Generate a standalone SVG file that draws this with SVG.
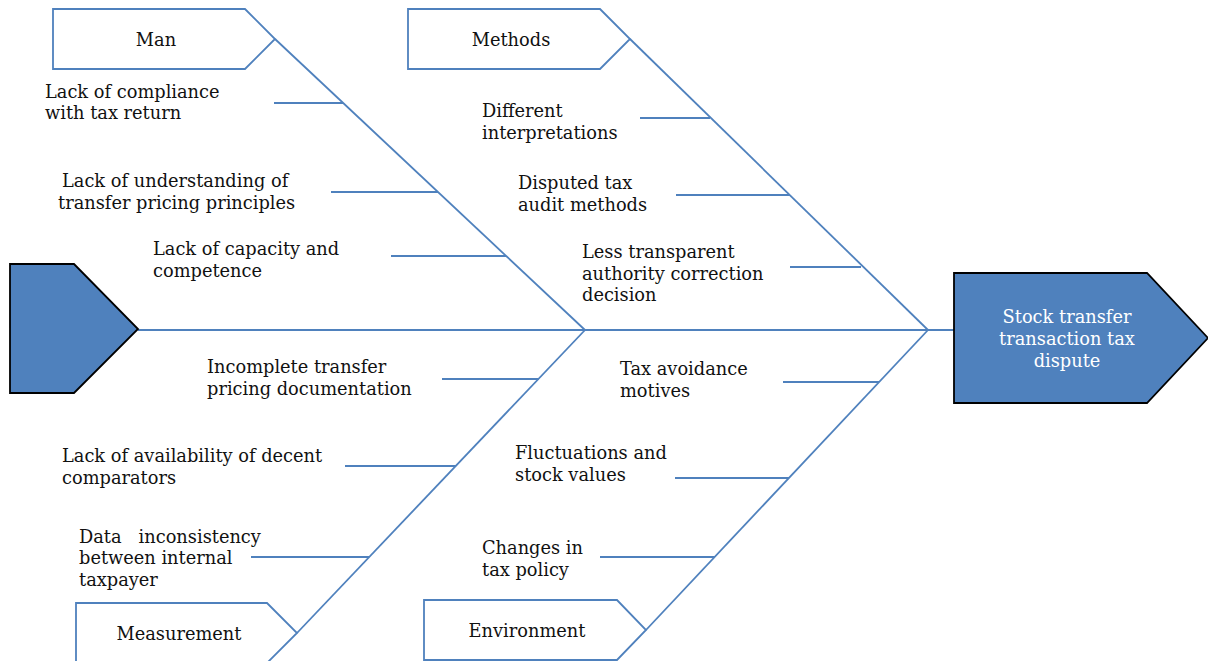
<svg xmlns="http://www.w3.org/2000/svg" width="1208" height="661" viewBox="0 0 1208 661">
  <style>
    .bone { stroke: #4f81bd; stroke-width: 1.8; fill: none; }
    .cat { stroke: #4f81bd; stroke-width: 1.8; fill: #ffffff; }
    .end { stroke: #000000; stroke-width: 1.8; fill: #4f81bd; }
    text { font-family: "DejaVu Serif", "Liberation Serif", serif; font-size: 17.8px; fill: #111111; }
    .mid { text-anchor: middle; }
    .head { fill: #ffffff; }
  </style>
  <rect width="1208" height="661" fill="#ffffff"/>

  <!-- spine, main bones and ribs -->
  <g id="connectors">
    <line class="bone" x1="138" y1="330" x2="954" y2="330"/>
    <!-- Man -->
    <line class="bone" x1="275" y1="39" x2="585" y2="330"/>
    <line class="bone" x1="274" y1="103" x2="343" y2="103"/>
    <line class="bone" x1="331" y1="192" x2="438" y2="192"/>
    <line class="bone" x1="391" y1="256" x2="506" y2="256"/>
    <!-- Methods -->
    <line class="bone" x1="630" y1="39" x2="928" y2="330"/>
    <line class="bone" x1="640" y1="118" x2="710" y2="118"/>
    <line class="bone" x1="676" y1="195" x2="790" y2="195"/>
    <line class="bone" x1="790" y1="267" x2="861" y2="267"/>
    <!-- Measurement -->
    <line class="bone" x1="297" y1="633" x2="585" y2="330"/>
    <line class="bone" x1="442" y1="379" x2="539" y2="379"/>
    <line class="bone" x1="345" y1="466" x2="456" y2="466"/>
    <line class="bone" x1="251" y1="557" x2="369" y2="557"/>
    <!-- Environment -->
    <line class="bone" x1="646" y1="630" x2="928" y2="330"/>
    <line class="bone" x1="783" y1="382" x2="879" y2="382"/>
    <line class="bone" x1="675" y1="478" x2="789" y2="478"/>
    <line class="bone" x1="600" y1="557" x2="715" y2="557"/>
  </g>

  <!-- tail -->
  <g id="tail">
    <polygon class="end" points="10,264 74,264 138,329 74,393 10,393"/>
  </g>

  <!-- effect -->
  <g id="effect">
    <polygon class="end" points="954,273 1147,273 1208,338 1147,403 954,403"/>
    <text class="mid head" x="1067" y="323">Stock transfer</text>
    <text class="mid head" x="1067" y="345">transaction tax</text>
    <text class="mid head" x="1067" y="367">dispute</text>
  </g>

  <!-- category: Man -->
  <g id="man">
    <polygon class="cat" points="53,9 245,9 275,39 245,69 53,69"/>
    <text class="mid" x="156" y="46">Man</text>
    <text x="45" y="98">Lack of compliance</text>
    <text x="45" y="119">with tax return</text>
    <text x="62" y="187">Lack of understanding of</text>
    <text x="58" y="209">transfer pricing principles</text>
    <text x="153" y="255">Lack of capacity and</text>
    <text x="153" y="277">competence</text>
  </g>

  <!-- category: Methods -->
  <g id="methods">
    <polygon class="cat" points="408,9 600,9 630,39 600,69 408,69"/>
    <text class="mid" x="511" y="46">Methods</text>
    <text x="482" y="117">Different</text>
    <text x="482" y="139">interpretations</text>
    <text x="518" y="189">Disputed tax</text>
    <text x="518" y="211">audit methods</text>
    <text x="582" y="258">Less transparent</text>
    <text x="582" y="280">authority correction</text>
    <text x="582" y="301">decision</text>
  </g>

  <!-- category: Measurement -->
  <g id="measurement">
    <polygon class="cat" points="76,603 267,603 297,633 267,663 76,663"/>
    <text class="mid" x="179" y="640">Measurement</text>
    <text x="207" y="373">Incomplete transfer</text>
    <text x="207" y="395">pricing documentation</text>
    <text x="62" y="462">Lack of availability of decent</text>
    <text x="62" y="484">comparators</text>
    <text x="79" y="543" xml:space="preserve">Data   inconsistency</text>
    <text x="79" y="564">between internal</text>
    <text x="79" y="586">taxpayer</text>
  </g>

  <!-- category: Environment -->
  <g id="environment">
    <polygon class="cat" points="424,600 617,600 646,630 617,660 424,660"/>
    <text class="mid" x="527" y="637">Environment</text>
    <text x="620" y="375">Tax avoidance</text>
    <text x="620" y="397">motives</text>
    <text x="515" y="459">Fluctuations and</text>
    <text x="515" y="481">stock values</text>
    <text x="482" y="554">Changes in</text>
    <text x="482" y="576">tax policy</text>
  </g>
</svg>
